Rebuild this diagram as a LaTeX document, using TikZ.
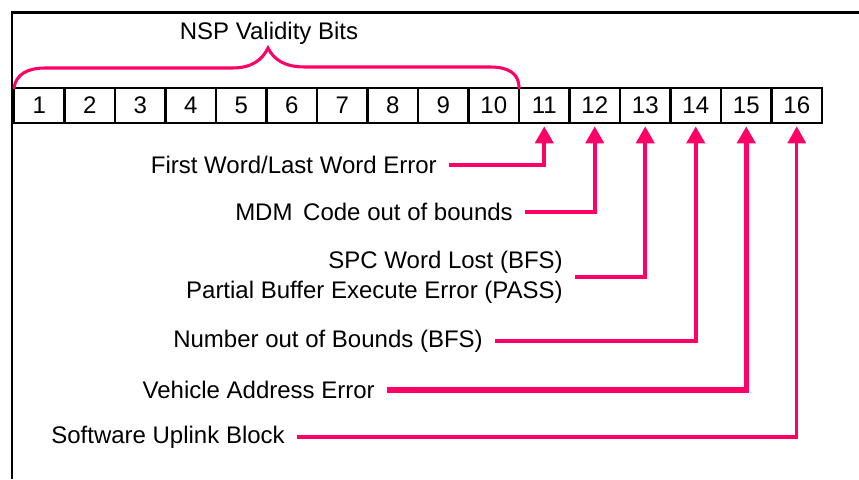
\documentclass[tikz,border=0pt]{standalone}
\usepackage{fontspec}
\setmainfont{Liberation Sans}
\usetikzlibrary{arrows.meta}
\definecolor{errpink}{RGB}{255,0,102}
\tikzset{
	bit_box/.style = {draw=black, line width=2.2pt, minimum width=37.9pt,
		minimum height=26.25pt, inner sep=0pt, outer sep=0pt,
		font=\fontsize{18}{22}\selectfont},
	err_lbl/.style = {anchor=east, align=right, inner xsep=9pt, inner ysep=0pt,
		font=\fontsize{18}{22.5}\selectfont},
	err_ln/.style = {errpink, line width=3pt, shorten >=2.5pt,
		-{Triangle[width=13.5pt,length=12.75pt]}},
	brace_ln/.style = {errpink, line width=2.3pt, line cap=round}
}

\begin{document}
\begin{tikzpicture}[x=0.75pt,y=-0.75pt]
\useasboundingbox (0,0) rectangle (859,479);
\draw[line width=1.6pt] (12,479) -- (12,12.5) -- (859,12.5);
% the sixteen bits
\foreach \i in {1,...,16}
	\node [bit_box] (bit\i) at ({14+(\i-0.5)*50.5},105.5) {\i};
% brace over bits 1-10
\node [font=\fontsize{18}{22}\selectfont] (nsp_ttl) at (269,33) {NSP Validity Bits};
\draw[brace_ln] (bit1.north west) .. controls (16,74) and (28,68) .. (45,68)
	-- (232,68) .. controls (252,68) and (262,60) .. (268,48)
	.. controls (274,60) and (285,67) .. (305,67) -- (490,67)
	.. controls (508,67) and (519,73) .. (bit10.north east);
% error labels
\node [err_lbl] (err11) at (449,165) {First Word/Last Word Error};
\node [err_lbl] (err12) at (525,212) {MDM\, Code out of bounds};
\node [err_lbl] (err13) at (575,277) {SPC Word Lost (BFS)\\Partial Buffer Execute Error (PASS)};
\node [err_lbl] (err14) at (495,341) {Number out of Bounds (BFS)};
\node [err_lbl] (err15) at (387,390) {Vehicle Address Error};
\node [err_lbl] (err16) at (297,437) {Software Uplink Block};
\draw[err_ln] (err11.east) -| (bit11.south);
\draw[err_ln] (err12.east) -| (bit12.south);
\draw[err_ln] (err13.east) -| (bit13.south);
\draw[err_ln] (err14.east) -| (bit14.south);
\draw[err_ln, line width=4pt] (err15.east) -| (bit15.south);
\draw[err_ln, line width=2.4pt] (err16.east) -| (bit16.south);
\end{tikzpicture}
\end{document}
